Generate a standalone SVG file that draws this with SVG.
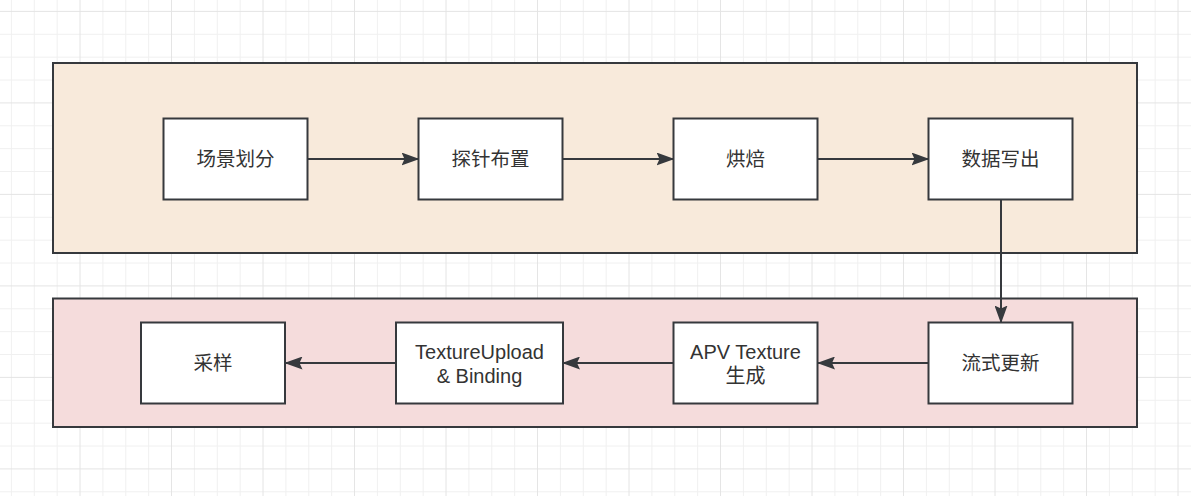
<svg xmlns="http://www.w3.org/2000/svg" width="1191" height="496" viewBox="0 0 1191 496">
<defs>
<pattern id="grid" x="10.9" y="10.9" width="91.5" height="91.5" patternUnits="userSpaceOnUse">
<path d="M0.5 0V91.5M23.375 0V91.5M46.25 0V91.5M0 23.375H91.5M0 46.25H91.5M0 69.125H91.5" stroke="#f0f0f0" stroke-width="1" fill="none"/>
<path d="M69.125 0V91.5M0 0.5H91.5" stroke="#e4e4e4" stroke-width="1" fill="none"/>
</pattern>
<marker id="arr" viewBox="0 0 18 13" refX="17" refY="6.5" markerWidth="18" markerHeight="13" markerUnits="userSpaceOnUse" orient="auto">
<path d="M0 0L18 6.5L0 13L3 6.5Z" fill="#36393d"/>
</marker>
</defs>
<style>
.grp{stroke:#36393d;stroke-width:2}
.node rect{fill:#ffffff;stroke:#36393d;stroke-width:2}
.node text{font-family:"Noto Sans CJK SC","Noto Sans",sans-serif;font-size:19.5px;fill:#333333;text-anchor:middle}
.node text.ml{font-family:"Liberation Sans","Noto Sans CJK SC",sans-serif;font-size:20px}
.edge{stroke:#36393d;stroke-width:2;fill:none;marker-end:url(#arr)}
</style>
<rect width="1191" height="496" fill="#ffffff"/>
<rect width="1191" height="496" fill="url(#grid)"/>
<g id="group-top"><rect class="grp" x="53" y="63" width="1084" height="190" fill="#f8eadb"/></g>
<g id="group-bottom"><rect class="grp" x="53" y="298.5" width="1084" height="128.5" fill="#f5dcdc"/></g>
<g id="connectors">
<path class="edge" d="M307.5 159H418.5"/>
<path class="edge" d="M562.5 159H673.5"/>
<path class="edge" d="M818 159H928.5"/>
<path class="edge" d="M1001 200V322.5"/>
<path class="edge" d="M928.5 363H818"/>
<path class="edge" d="M673.5 363H563"/>
<path class="edge" d="M396 363H285.5"/>
</g>
<g id="n1" class="node"><rect x="163.5" y="118.5" width="144" height="81"/><text x="235.5" y="166">场景划分</text></g>
<g id="n2" class="node"><rect x="418.5" y="118.5" width="144" height="81"/><text x="490.5" y="166">探针布置</text></g>
<g id="n3" class="node"><rect x="673.5" y="118.5" width="144" height="81"/><text x="745.5" y="166">烘焙</text></g>
<g id="n4" class="node"><rect x="928.5" y="118.5" width="144" height="81"/><text x="1000.5" y="166">数据写出</text></g>
<g id="n5" class="node"><rect x="928.5" y="322.5" width="144" height="81"/><text x="1000.5" y="370">流式更新</text></g>
<g id="n6" class="node"><rect x="673.5" y="322.5" width="144" height="81"/><text class="ml" x="745.5" y="358.5">APV Texture</text><text class="ml" x="745.5" y="382.5">生成</text></g>
<g id="n7" class="node"><rect x="396" y="322.5" width="167" height="81"/><text class="ml" x="479.5" y="358.5">TextureUpload</text><text class="ml" x="479.5" y="382.5">&amp; Binding</text></g>
<g id="n8" class="node"><rect x="141" y="322.5" width="144" height="81"/><text x="213" y="370">采样</text></g>
</svg>
